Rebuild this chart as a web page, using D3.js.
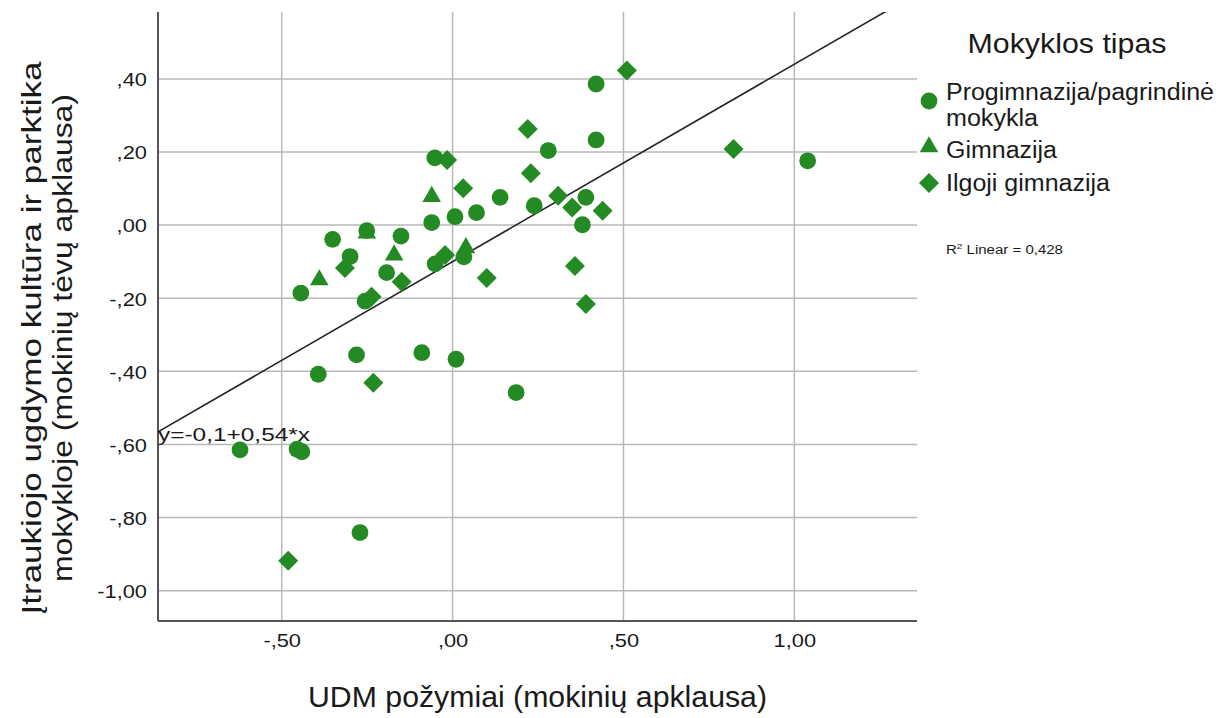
<!DOCTYPE html>
<html>
<head>
<meta charset="utf-8">
<script src="https://cdn.jsdelivr.net/npm/d3@7"></script>
<style>
  html, body { margin: 0; padding: 0; background: #fff; }
  svg { display: block; }
  text { font-family: "Liberation Sans", Arial, sans-serif; fill: #1a1a1a; }
</style>
</head>
<body>
<svg id="chart" width="1232" height="718"></svg>
<script>
// ---------- data ----------
const categories = ["Progimnazija/pagrindinė mokykla", "Gimnazija", "Ilgoji gimnazija"];

const progX = [-0.351, -0.251, -0.151, -0.300, -0.444, -0.193, -0.256, -0.052, -0.061, 0.007,
               0.070, 0.139, 0.239, 0.390, 0.380, 0.280, 0.420, 0.420, 1.039, -0.051,
               0.033, -0.281, -0.090, 0.010, -0.393, 0.186, -0.622, -0.455, -0.441, -0.271];
const progY = [-0.039, -0.015, -0.030, -0.086, -0.186, -0.130, -0.208, 0.184, 0.007, 0.023,
               0.034, 0.076, 0.053, 0.076, 0.001, 0.204, 0.233, 0.386, 0.176, -0.106,
               -0.087, -0.355, -0.349, -0.367, -0.408, -0.458, -0.615, -0.613, -0.620, -0.841];

const gimX = [-0.061, -0.251, -0.171, -0.390, 0.039];
const gimY = [0.078, -0.022, -0.082, -0.150, -0.062];

const ilgX = [-0.016, 0.031, 0.229, 0.220, 0.510, 0.309, 0.350, 0.439, 0.358, 0.390,
              0.100, -0.022, -0.315, -0.149, -0.237, -0.232, -0.481, 0.822];
const ilgY = [0.178, 0.101, 0.142, 0.263, 0.423, 0.080, 0.048, 0.039, -0.112, -0.216,
              -0.145, -0.082, -0.117, -0.155, -0.196, -0.431, -0.918, 0.208];

const xTicks = [-0.5, 0, 0.5, 1.0];
const xTickLabels = ["-,50", ",00", ",50", "1,00"];
const yTicks = [0.4, 0.2, 0, -0.2, -0.4, -0.6, -0.8, -1.0];
const yTickLabels = [",40", ",20", ",00", "-,20", "-,40", "-,60", "-,80", "-1,00"];

const fitIntercept = -0.1;
const fitSlope = 0.54;
const fitLabel = "y=-0,1+0,54*x";
const r2Label = "Linear = 0,428";

const xTitle = "UDM požymiai (mokinių apklausa)";
const yTitleLines = ["Įtraukiojo ugdymo kultūra ir parktika", "mokykloje (mokinių tėvų apklausa)"];
const legendTitle = "Mokyklos tipas";
const legendLines = [["Progimnazija/pagrindinė", "mokykla"], ["Gimnazija"], ["Ilgoji gimnazija"]];

// ---------- layout ----------
const green = "#248a24";
const svg = d3.select("#chart");
const L = 158, R = 917, T = 12, B = 621;

const x = d3.scaleLinear().domain([-0.862, 1.359]).range([L, R]);
const y = d3.scaleLinear().domain([-1.083, 0.583]).range([B, T]);

// gridlines
const grid = svg.append("g");
grid.selectAll("line.h").data(yTicks).enter().append("line")
  .attr("x1", L).attr("x2", R)
  .attr("y1", d => y(d)).attr("y2", d => y(d))
  .attr("stroke", "#b8b8b8").attr("stroke-width", 1.5);
grid.selectAll("line.v").data(xTicks).enter().append("line")
  .attr("y1", T).attr("y2", B)
  .attr("x1", d => x(d)).attr("x2", d => x(d))
  .attr("stroke", "#b8b8b8").attr("stroke-width", 1.5);

// axes
const xAxis = d3.axisBottom(x).tickValues(xTicks).tickSize(0).tickFormat((d, i) => xTickLabels[i]);
const yAxis = d3.axisLeft(y).tickValues(yTicks).tickSize(0).tickFormat((d, i) => yTickLabels[i]);

const gx = svg.append("g").attr("transform", `translate(0,${B})`).call(xAxis);
gx.select(".domain").attr("stroke", "#555").attr("stroke-width", 2).attr("d", `M${L},0H${R}`);
gx.selectAll(".tick text")
  .attr("font-family", "Liberation Sans, Arial, sans-serif")
  .attr("font-size", 19).attr("fill", "#1a1a1a").attr("dy", 0).attr("y", 0)
  .attr("transform", "translate(0,26) scale(1.15,1)");

const gy = svg.append("g").attr("transform", `translate(${L},0)`).call(yAxis);
gy.select(".domain").attr("stroke", "#555").attr("stroke-width", 2).attr("d", `M0,${T}V${B}`);
gy.selectAll(".tick text")
  .attr("font-family", "Liberation Sans, Arial, sans-serif")
  .attr("font-size", 19).attr("fill", "#1a1a1a").attr("x", 0).attr("dy", "0.36em")
  .attr("transform", "translate(-11,0) scale(1.15,1)");

// clip
svg.append("clipPath").attr("id", "plotclip").append("rect")
  .attr("x", L).attr("y", T).attr("width", R - L).attr("height", B - T);

// regression line
const xs = x.domain();
svg.append("line")
  .attr("clip-path", "url(#plotclip)")
  .attr("x1", x(xs[0])).attr("y1", y(fitIntercept + fitSlope * xs[0]))
  .attr("x2", x(xs[1])).attr("y2", y(fitIntercept + fitSlope * xs[1]))
  .attr("stroke", "#222").attr("stroke-width", 1.6);

// markers
const circleSym = d3.symbol().type(d3.symbolCircle).size(Math.PI * 8.4 * 8.4);
const triSym = d3.symbol().type(d3.symbolTriangle).size(150);
const diaSym = d3.symbol().type(d3.symbolSquare).size(200);

const pts = svg.append("g");
function plot(xsArr, ysArr, sym, rot) {
  pts.append("g").selectAll("path").data(xsArr.map((v, i) => [v, ysArr[i]])).enter().append("path")
    .attr("d", sym())
    .attr("transform", d => `translate(${x(d[0])},${y(d[1])})` + (rot ? ` rotate(${rot})` : ""))
    .attr("fill", green);
}
plot(progX, progY, circleSym, 0);
plot(gimX, gimY, triSym, 0);
plot(ilgX, ilgY, diaSym, 45);

// equation label
svg.append("text").attr("x", 158).attr("y", 441)
  .attr("font-size", 18).attr("textLength", 152).attr("lengthAdjust", "spacingAndGlyphs")
  .text(fitLabel);

// axis titles
svg.append("text").attr("x", (L + R) / 2).attr("y", 707).attr("text-anchor", "middle")
  .attr("font-size", 29).attr("fill", "#222")
  .attr("textLength", 459).attr("lengthAdjust", "spacingAndGlyphs")
  .text(xTitle);

const yt = svg.append("g").attr("transform", "translate(0,338) rotate(-90)");
yt.append("text").attr("x", 0).attr("y", 41).attr("text-anchor", "middle")
  .attr("font-size", 28).attr("fill", "#222")
  .attr("textLength", 553).attr("lengthAdjust", "spacingAndGlyphs")
  .text(yTitleLines[0]);
yt.append("text").attr("x", 0).attr("y", 72).attr("text-anchor", "middle")
  .attr("font-size", 28).attr("fill", "#222")
  .attr("textLength", 488).attr("lengthAdjust", "spacingAndGlyphs")
  .text(yTitleLines[1]);

// legend
const lg = svg.append("g");
lg.append("text").attr("x", 1067).attr("y", 53).attr("text-anchor", "middle")
  .attr("font-size", 28).attr("fill", "#222")
  .attr("textLength", 199).attr("lengthAdjust", "spacingAndGlyphs")
  .text(legendTitle);

const legendSyms = [[circleSym, 0, 101], [triSym, 0, 147], [diaSym, 45, 183]];
legendSyms.forEach((s, i) => {
  lg.append("path").attr("d", s[0]())
    .attr("transform", `translate(929,${s[2]})` + (s[1] ? ` rotate(${s[1]})` : ""))
    .attr("fill", green);
});
const legendTextY = [[100, 126], [158], [191]];
const legendTextW = [[268, 92], [111], [164]];
legendLines.forEach((lines, i) => {
  lines.forEach((t, j) => {
    lg.append("text").attr("x", 946).attr("y", legendTextY[i][j])
      .attr("font-size", 23).attr("fill", "#222")
      .attr("textLength", legendTextW[i][j]).attr("lengthAdjust", "spacingAndGlyphs")
      .text(t);
  });
});

const r2 = lg.append("text").attr("x", 946).attr("y", 254).attr("font-size", 12).attr("fill", "#333")
  .attr("textLength", 117).attr("lengthAdjust", "spacingAndGlyphs");
r2.append("tspan").text("R");
r2.append("tspan").attr("font-size", 8).attr("dy", -5).text("2");
r2.append("tspan").attr("dy", 5).text(" " + r2Label);
</script>
</body>
</html>
